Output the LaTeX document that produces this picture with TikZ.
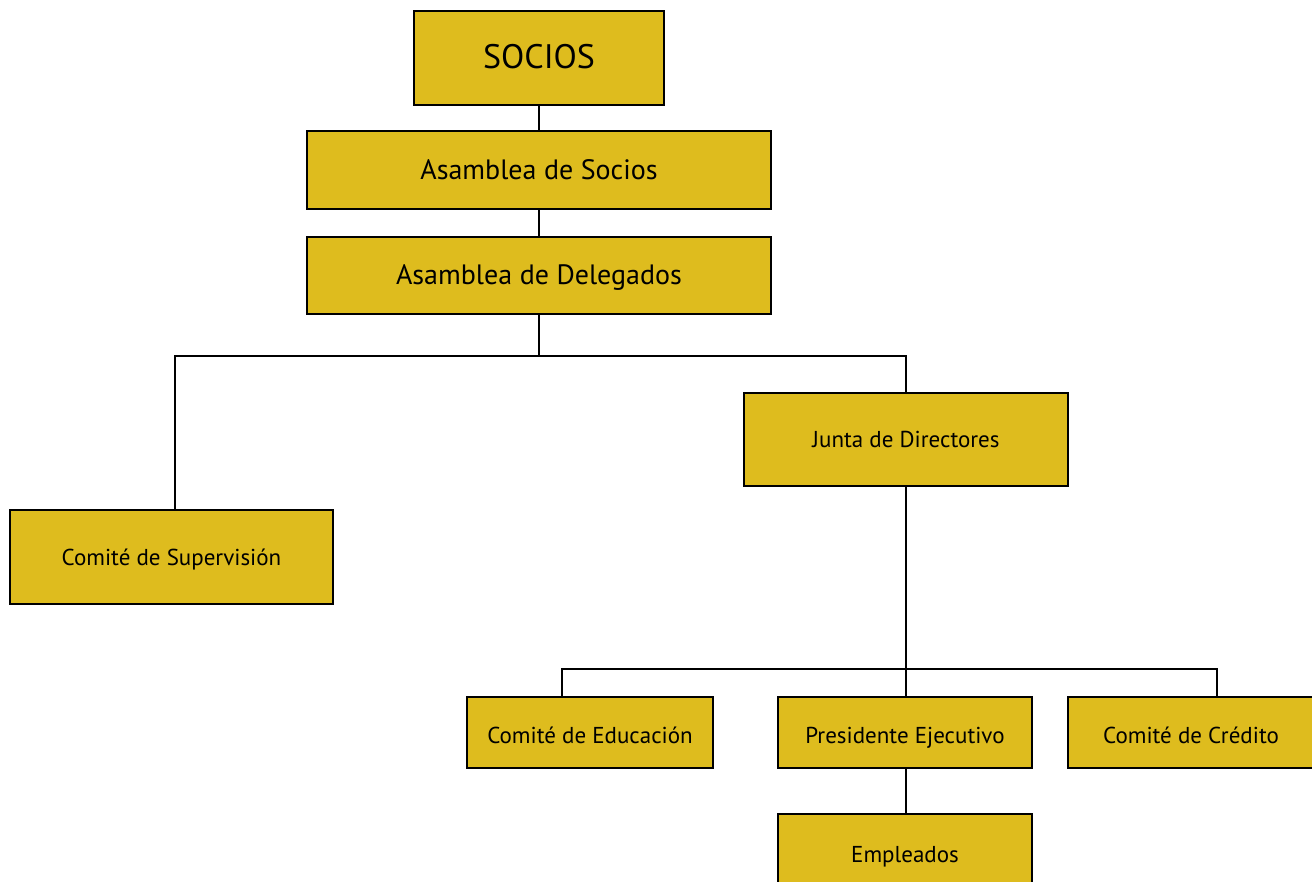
\documentclass[tikz,border=0pt]{standalone}
\usepackage{fontspec}
\setmainfont{PT Sans}
\definecolor{boxfill}{RGB}{222,188,30}
\tikzset{
  orgbox/.style={draw=black, line width=1.6pt, fill=boxfill, inner sep=0pt, anchor=center, text depth=0pt},
  link/.style={draw=black, line width=1.3pt},
  bigfont/.style={font=\fontsize{34}{38}\selectfont, text height=22pt},
  midfont/.style={font=\fontsize{28}{32}\selectfont, text height=19pt},
  smallfont/.style={font=\fontsize{23}{27}\selectfont, text height=16pt},
  lowtext/.style={text height=21pt},
}
\begin{document}
\begin{tikzpicture}[x=1pt,y=-1pt]
\useasboundingbox (0,0) rectangle (1312,882);
\clip (0,0) rectangle (1312,882);
\node[orgbox, minimum width=250pt, minimum height=94pt, bigfont] (socios) at (539,58) {SOCIOS};
\node[orgbox, minimum width=464pt, minimum height=78pt, midfont] (asocios) at (539,170) {Asamblea de Socios};
\node[orgbox, minimum width=464pt, minimum height=77pt, midfont] (adeleg) at (539,275.5) {Asamblea de Delegados};
\node[orgbox, minimum width=324pt, minimum height=93pt, smallfont] (junta) at (906,439.5) {Junta de Directores};
\node[orgbox, minimum width=323pt, minimum height=94pt, smallfont] (superv) at (171.5,557) {Comité de Supervisión};
\node[orgbox, minimum width=246pt, minimum height=71pt, smallfont, lowtext] (educ) at (590,732.5) {Comité de Educación};
\node[orgbox, minimum width=254pt, minimum height=71pt, smallfont, lowtext] (pres) at (905,732.5) {Presidente Ejecutivo};
\node[orgbox, minimum width=246pt, minimum height=71pt, smallfont, lowtext] (cred) at (1191,732.5) {Comité de Crédito};
\node[orgbox, minimum width=254pt, minimum height=80pt, smallfont] (empl) at (905,854) {Empleados};
\coordinate (b1) at (539,356);
\coordinate (b2) at (906,669);
\draw[link] (socios.south) -- (asocios.north);
\draw[link] (asocios.south) -- (adeleg.north);
\draw[link] (adeleg.south) -- (b1);
\draw[link] (superv.north -| 175,0) |- (b1) -| (junta.north);
\draw[link] (junta.south) -- (b2);
\draw[link] (educ.north -| 562,0) |- (b2) -| (cred.north -| 1217,0);
\draw[link] (b2) -- (pres.north -| b2);
\draw[link] (pres.south -| b2) -- (empl.north -| b2);
\end{tikzpicture}
\end{document}
